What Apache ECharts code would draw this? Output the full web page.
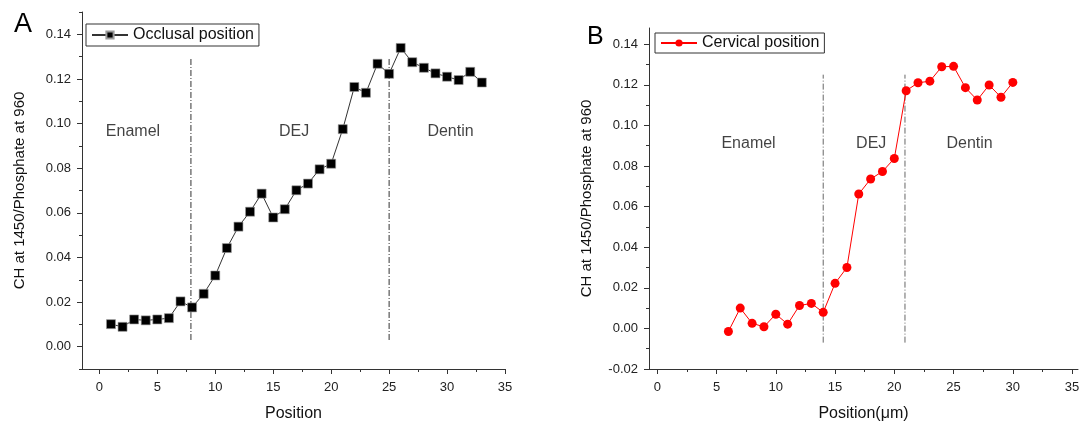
<!DOCTYPE html>
<html>
<head>
<meta charset="utf-8">
<script src="https://cdn.jsdelivr.net/npm/echarts@6/dist/echarts.min.js"></script>
<style>
  html, body { margin: 0; padding: 0; background: #fff; }
  #chart { width: 1089px; height: 433px; }
</style>
</head>
<body>
<div id="chart"></div>
<script>
// panel A - occlusal position
var occlusalPos = [1, 2, 3, 4, 5, 6, 7, 8, 9, 10, 11, 12, 13, 14, 15, 16, 17, 18, 19, 20, 21, 22, 23, 24, 25, 26, 27, 28, 29, 30, 31, 32, 33];
var occlusalCH = [0.0101, 0.0089, 0.0122, 0.0118, 0.0122, 0.0128, 0.0203, 0.0176, 0.0237, 0.0319, 0.0442, 0.0538, 0.0605, 0.0686, 0.0579, 0.0616, 0.0701, 0.0731, 0.0795, 0.0820, 0.0975, 0.1164, 0.1138, 0.1268, 0.1223, 0.1339, 0.1275, 0.1250, 0.1225, 0.1210, 0.1195, 0.1232, 0.1184];
// panel B - cervical position
var cervicalPos = [6, 7, 8, 9, 10, 11, 12, 13, 14, 15, 16, 17, 18, 19, 20, 21, 22, 23, 24, 25, 26, 27, 28, 29, 30];
var cervicalCH = [-0.0015, 0.0100, 0.0025, 0.0008, 0.0070, 0.0021, 0.0113, 0.0123, 0.0079, 0.0222, 0.0300, 0.0662, 0.0736, 0.0773, 0.0837, 0.1171, 0.1210, 0.1218, 0.1289, 0.1291, 0.1186, 0.1125, 0.1199, 0.1139, 0.1212];

var xTicks = [0, 5, 10, 15, 20, 25, 30, 35];
var xMinorTicks = [2.5, 7.5, 12.5, 17.5, 22.5, 27.5, 32.5];
var yTicksA = [0, 0.02, 0.04, 0.06, 0.08, 0.10, 0.12, 0.14];
var yMinorA = [-0.01, 0.01, 0.03, 0.05, 0.07, 0.09, 0.11, 0.13, 0.15];
var yTicksB = [-0.02, 0, 0.02, 0.04, 0.06, 0.08, 0.10, 0.12, 0.14];
var yMinorB = [-0.01, 0.01, 0.03, 0.05, 0.07, 0.09, 0.11, 0.13];

var regionNames = ['Enamel', 'DEJ', 'Dentin'];
var boundariesA = [7.9, 25];
var boundariesB = [14, 20.9];

var FONT = '"Liberation Sans", Arial, sans-serif';
var AXIS_COLOR = '#333';

var chart = echarts.init(document.getElementById('chart'));

function mainX(gridIndex, min, max, name) {
    return {
        type: 'value', gridIndex: gridIndex, min: min, max: max, position: 'bottom',
        name: name, nameLocation: 'middle', nameGap: 37,
        nameTextStyle: { fontFamily: FONT, fontSize: 16, color: '#111' },
        splitLine: { show: false },
        axisLine: { onZero: false, lineStyle: { color: AXIS_COLOR, width: 1 } },
        axisTick: { show: false },
        axisLabel: { customValues: xTicks, margin: 12, fontFamily: FONT, fontSize: 13, color: '#222' }
    };
}
// tick-only helper axis (major or minor marks)
function tickX(gridIndex, min, max, values, len) {
    return {
        type: 'value', gridIndex: gridIndex, min: min, max: max, position: 'bottom',
        splitLine: { show: false },
        axisLine: { show: false, onZero: false },
        axisTick: { inside: false, length: len, customValues: values, lineStyle: { color: AXIS_COLOR } },
        axisLabel: { show: false }
    };
}
function mainY(gridIndex, min, max, ticks) {
    return {
        type: 'value', gridIndex: gridIndex, min: min, max: max, position: 'left',
        name: 'CH at 1450/Phosphate at 960', nameLocation: 'middle', nameGap: 55,
        nameTextStyle: { fontFamily: FONT, fontSize: 15, color: '#111' },
        splitLine: { show: false },
        axisLine: { onZero: false, lineStyle: { color: AXIS_COLOR, width: 1 } },
        axisTick: { show: false },
        axisLabel: {
            customValues: ticks, margin: 11, fontFamily: FONT, fontSize: 13, color: '#222',
            formatter: function (v) { return v.toFixed(2); }
        }
    };
}
function tickY(gridIndex, min, max, values, len) {
    return {
        type: 'value', gridIndex: gridIndex, min: min, max: max, position: 'left',
        splitLine: { show: false },
        axisLine: { show: false, onZero: false },
        axisTick: { inside: false, length: len, customValues: values, lineStyle: { color: AXIS_COLOR } },
        axisLabel: { show: false }
    };
}

function boundarySeries(xv, yFrom, yTo, axisIdx, color) {
    return {
        type: 'line', xAxisIndex: axisIdx, yAxisIndex: axisIdx, silent: true,
        symbol: 'none', z: 1,
        lineStyle: { color: color, width: 1, type: [6, 2, 1, 2] },
        data: [[xv, yFrom], [xv, yTo]]
    };
}

function regionSeries(axisIdx, xs, y) {
    return {
        type: 'scatter', xAxisIndex: axisIdx, yAxisIndex: axisIdx, silent: true,
        symbolSize: 1, itemStyle: { color: 'rgba(0,0,0,0)' },
        label: {
            show: true, position: 'inside', formatter: '{b}',
            fontFamily: FONT, fontSize: 16, color: '#111'
        },
        data: regionNames.map(function (n, i) { return { name: n, value: [xs[i], y] }; })
    };
}

var series = [];
boundariesA.forEach(function (b) { series.push(boundarySeries(b, 0.003, 0.129, 0, '#333')); });
boundariesB.forEach(function (b) { series.push(boundarySeries(b, -0.007, 0.125, 3, '#666')); });
series.push(regionSeries(0, [2.9, 16.8, 30.3], 0.0966));
series.push(regionSeries(3, [7.7, 18.05, 26.35], 0.0912));
series.push({
    name: 'Occlusal position', type: 'line', xAxisIndex: 0, yAxisIndex: 0, z: 3,
    symbol: 'rect', symbolSize: 9,
    itemStyle: { color: '#000', borderColor: '#999', borderWidth: 0.6 },
    lineStyle: { color: '#333', width: 1 },
    data: occlusalPos.map(function (p, i) { return [p, occlusalCH[i]]; })
});
series.push({
    name: 'Cervical position', type: 'line', xAxisIndex: 3, yAxisIndex: 3, z: 3,
    symbol: 'circle', symbolSize: 9,
    itemStyle: { color: '#f00' },
    lineStyle: { color: '#f00', width: 1 },
    data: cervicalPos.map(function (p, i) { return [p, cervicalCH[i]]; })
});

var option = {
    animation: false,
    backgroundColor: '#fff',
    title: [
        { text: 'A', left: 9, top: 6, textStyle: { fontFamily: FONT, fontSize: 27, fontWeight: 'normal', color: '#000' } },
        { text: 'B', left: 582, top: 20, textStyle: { fontFamily: FONT, fontSize: 25, fontWeight: 'normal', color: '#000' } }
    ],
    legend: [
        {
            data: ['Occlusal position'], left: 86, top: 24, padding: [3, 5, 3, 5],
            borderColor: '#333', borderWidth: 1, itemWidth: 36, itemHeight: 9, itemGap: 0,
            textStyle: { fontFamily: FONT, fontSize: 16, color: '#111' }
        },
        {
            data: ['Cervical position'], left: 655, top: 33, padding: [2, 5, 2, 5],
            borderColor: '#333', borderWidth: 1, itemWidth: 36, itemHeight: 9, itemGap: 0,
            textStyle: { fontFamily: FONT, fontSize: 16, color: '#111' }
        }
    ],
    grid: [
        { left: 82, top: 12, right: 584, bottom: 64 },
        { left: 649, top: 28, right: 11, bottom: 64 }
    ],
    xAxis: [
        mainX(0, -1.5, 35, 'Position'),
        tickX(0, -1.5, 35, xTicks, 5),
        tickX(0, -1.5, 35, xMinorTicks, 3),
        mainX(1, -0.7, 35.5, 'Position(μm)'),
        tickX(1, -0.7, 35.5, xTicks, 5),
        tickX(1, -0.7, 35.5, xMinorTicks, 3)
    ],
    yAxis: [
        mainY(0, -0.01, 0.15, yTicksA),
        tickY(0, -0.01, 0.15, yTicksA, 5),
        tickY(0, -0.01, 0.15, yMinorA, 3),
        mainY(1, -0.02, 0.148, yTicksB),
        tickY(1, -0.02, 0.148, yTicksB, 5),
        tickY(1, -0.02, 0.148, yMinorB, 3)
    ],
    series: series
};
chart.setOption(option);
</script>
</body>
</html>
